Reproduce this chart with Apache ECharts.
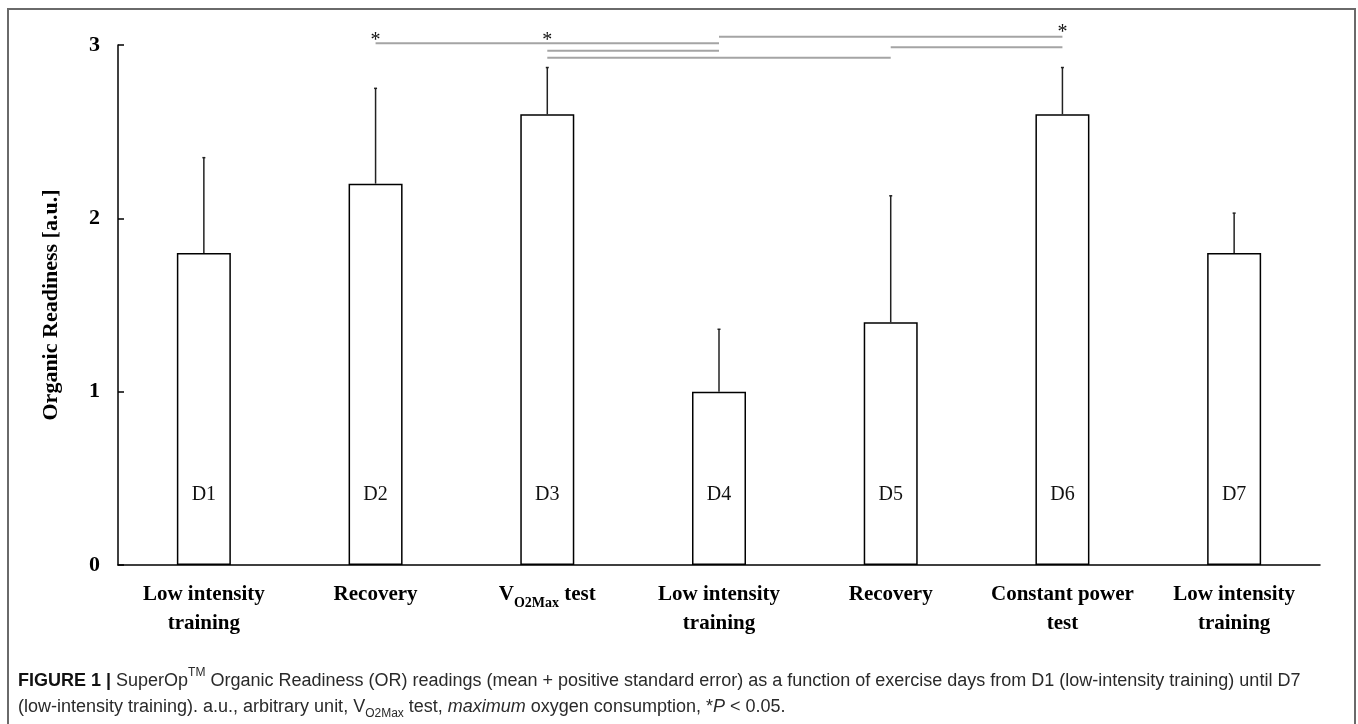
<!DOCTYPE html>
<html>
<head>
<meta charset="utf-8">
<script src="https://cdn.jsdelivr.net/npm/echarts@6/dist/echarts.min.js"></script>
<style>
html,body{margin:0;padding:0;background:#fff;}
#chart{width:1358px;height:724px;}
</style>
</head>
<body>
<div id="chart"></div>
<script>
// ---- data ----
var categories = ['Low intensity\ntraining', 'Recovery', 'VO2MAX', 'Low intensity\ntraining', 'Recovery', 'Constant power\ntest', 'Low intensity\ntraining'];
var dayLabels = ['D1', 'D2', 'D3', 'D4', 'D5', 'D6', 'D7'];
var means = [1.8, 2.2, 2.6, 1.0, 1.4, 2.6, 1.8];
var stdErrors = [0.55, 0.55, 0.27, 0.36, 0.73, 0.27, 0.23];
var yTicks = [0, 1, 2, 3];
// significance brackets: [fromIndex, toIndex, level]
var sigLines = [[1, 3, 3.01], [3, 5, 3.048], [4, 5, 2.987], [2, 3, 2.967], [2, 4, 2.927]];
// asterisks: [index, level]
var sigStars = [[1, 3.05], [2, 3.05], [5, 3.095]];

var serif = '"Liberation Serif", "Times New Roman", serif';
var sans = '"Liberation Sans", Arial, sans-serif';

var chart = echarts.init(document.getElementById('chart'));

var option = {
  animation: false,
  backgroundColor: '#fff',
  grid: { left: 118, right: 38, top: 45, bottom: 159, containLabel: false },
  xAxis: {
    type: 'category',
    data: categories,
    axisLine: { show: true, lineStyle: { color: '#000', width: 1.5 } },
    axisTick: { show: false },
    axisLabel: {
      interval: 0,
      margin: 15,
      color: '#000',
      fontFamily: serif,
      fontWeight: 'bold',
      fontSize: 21,
      lineHeight: 29,
      formatter: function (v) {
        if (v === 'VO2MAX') return '{v|V}{s|O2Max}{v| test}';
        return v;
      },
      rich: {
        v: { fontFamily: serif, fontWeight: 'bold', fontSize: 21, lineHeight: 30, verticalAlign: 'top', color: '#000', padding: [4, 0, 0, 0] },
        s: { fontFamily: serif, fontWeight: 'bold', fontSize: 14, lineHeight: 30, verticalAlign: 'bottom', color: '#000' }
      }
    },
    splitLine: { show: false }
  },
  yAxis: {
    type: 'value',
    min: 0,
    max: 3,
    interval: 1,
    name: 'Organic Readiness [a.u.]',
    nameLocation: 'middle',
    nameGap: 56,
    nameRotate: 90,
    nameTextStyle: { fontFamily: serif, fontWeight: 'bold', fontSize: 22, color: '#000' },
    axisLine: { show: true, lineStyle: { color: '#000', width: 1.5 } },
    axisTick: { show: true, inside: true, length: 6, lineStyle: { color: '#000', width: 1.5 } },
    axisLabel: {
      margin: 18,
      color: '#000',
      fontFamily: serif,
      fontWeight: 'bold',
      fontSize: 22,
      formatter: function (v) { return yTicks.indexOf(v) >= 0 ? String(v) : ''; }
    },
    splitLine: { show: false }
  },
  series: [
    {
      type: 'bar',
      data: means,
      barWidth: 54,
      itemStyle: { color: '#fff', borderColor: '#000', borderWidth: 1.5 },
      label: {
        show: true,
        position: 'insideBottom',
        distance: 60,
        fontFamily: serif,
        fontSize: 20,
        color: '#111',
        formatter: function (p) { return dayLabels[p.dataIndex]; }
      },
      z: 2
    },
    {
      type: 'custom',
      data: means.map(function (m, i) { return [i, m, m + stdErrors[i]]; }),
      encode: { x: 0, y: [1, 2] },
      renderItem: function (params, api) {
        var p0 = api.coord([api.value(0), api.value(1)]);
        var p1 = api.coord([api.value(0), api.value(2)]);
        return {
          type: 'group',
          children: [
            { type: 'line', shape: { x1: p0[0], y1: p0[1], x2: p1[0], y2: p1[1] }, style: { stroke: '#222', lineWidth: 1.5 } },
            { type: 'line', shape: { x1: p1[0] - 1.5, y1: p1[1], x2: p1[0] + 1.5, y2: p1[1] }, style: { stroke: '#222', lineWidth: 1.5 } }
          ]
        };
      },
      z: 3
    },
    {
      type: 'custom',
      data: sigLines,
      encode: { x: [0, 1], y: 2 },
      clip: false,
      renderItem: function (params, api) {
        var a = api.coord([api.value(0), api.value(2)]);
        var b = api.coord([api.value(1), api.value(2)]);
        return { type: 'line', shape: { x1: a[0], y1: a[1], x2: b[0], y2: b[1] }, style: { stroke: '#a4a4a4', lineWidth: 2 } };
      },
      z: 4
    },
    {
      type: 'custom',
      data: sigStars,
      encode: { x: 0, y: 1 },
      clip: false,
      renderItem: function (params, api) {
        var p = api.coord([api.value(0), api.value(1)]);
        return {
          type: 'text',
          x: p[0], y: p[1],
          style: { text: '*', fontFamily: serif, fontSize: 20, fill: '#111', textAlign: 'center', textVerticalAlign: 'middle', y: 4 }
        };
      },
      z: 5
    }
  ],
  graphic: [
    { type: 'rect', shape: { x: 8, y: 9, width: 1347, height: 730 }, style: { fill: 'none', stroke: '#6a6a6a', lineWidth: 2 }, z: 0, silent: true },
    {
      type: 'text', left: 18, top: 667, z: 10,
      style: {
        text: '{b|FIGURE 1 |}{n| SuperOp}{sup|TM}{n| Organic Readiness (OR) readings (mean + positive standard error) as a function of exercise days from D1 (low-intensity training) until D7}',
        rich: {
          b: { fontFamily: sans, fontWeight: 'bold', fontSize: 18, fill: '#111', lineHeight: 23, verticalAlign: 'bottom' },
          n: { fontFamily: sans, fontSize: 18, fill: '#2a2a2a', lineHeight: 23, verticalAlign: 'bottom' },
          sup: { fontFamily: sans, fontSize: 12, fill: '#2a2a2a', lineHeight: 23, verticalAlign: 'top' }
        }
      }
    },
    {
      type: 'text', left: 18, top: 698, z: 10,
      style: {
        text: '{n|(low-intensity training). a.u., arbitrary unit, V}{sub|O2Max}{n| test, }{i|maximum}{n| oxygen consumption, *}{i|P}{n| < 0.05.}',
        rich: {
          n: { fontFamily: sans, fontSize: 18, fill: '#2a2a2a', lineHeight: 22, verticalAlign: 'top' },
          i: { fontFamily: sans, fontStyle: 'italic', fontSize: 18, fill: '#2a2a2a', lineHeight: 22, verticalAlign: 'top' },
          sub: { fontFamily: sans, fontSize: 12, fill: '#2a2a2a', lineHeight: 22, verticalAlign: 'bottom' }
        }
      }
    }
  ]
};
chart.setOption(option);
</script>
</body>
</html>
